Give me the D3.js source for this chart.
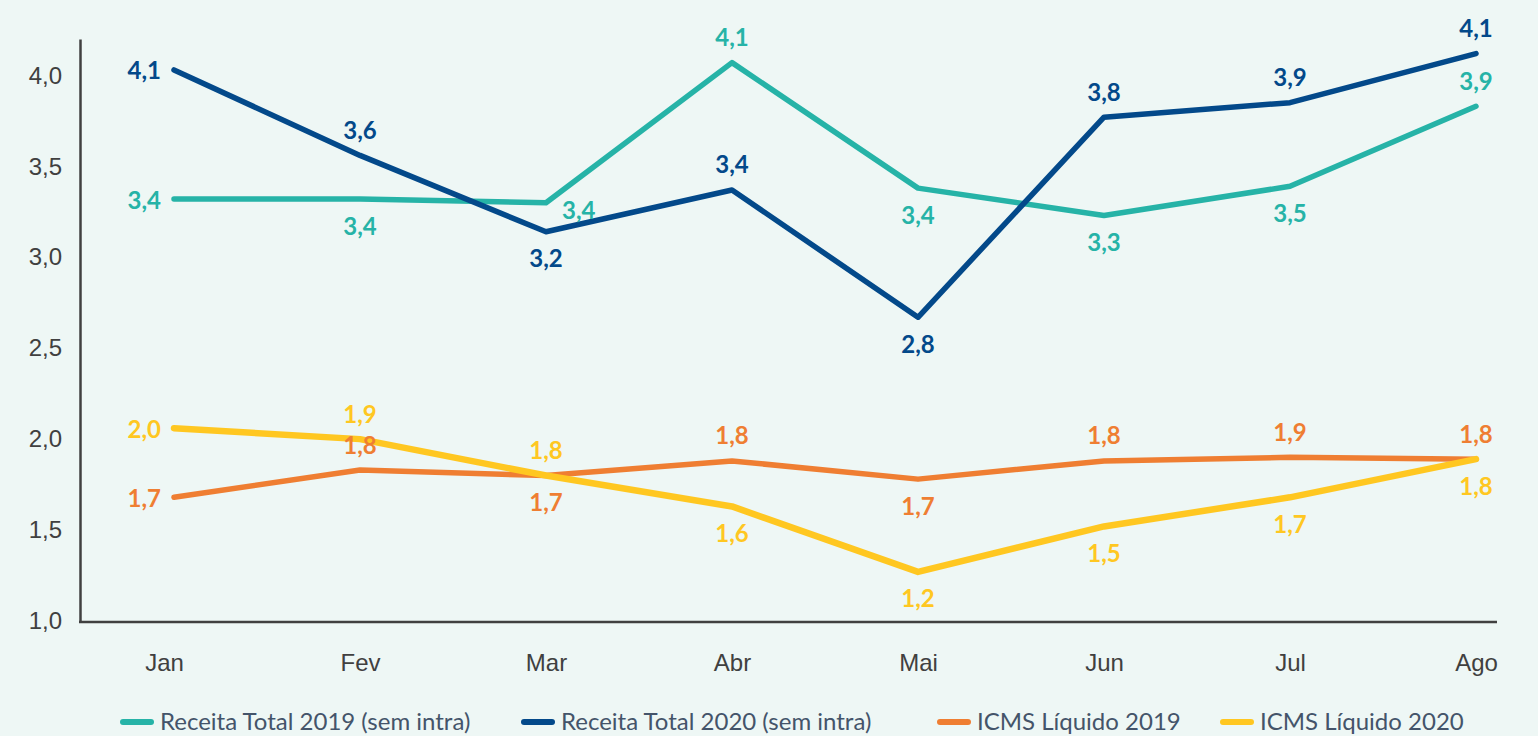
<!DOCTYPE html>
<html>
<head>
<meta charset="utf-8">
<script src="https://d3js.org/d3.v7.min.js"></script>
<style>
    html, body {
        margin: 0;
        padding: 0;
        background: #eef7f5;
    }
    svg {
        display: block;
        font-family: Lato, "Open Sans", sans-serif;
    }
    .tick text {
        fill: #404040;
        font-size: 24px;
    }
    .val {
        font-weight: bold;
        font-size: 24px;
    }
</style>
</head>
<body>
<svg id="chart" width="1538" height="736"></svg>
<script>
// categories
var months = ["Jan", "Fev", "Mar", "Abr", "Mai", "Jun", "Jul", "Ago"];
var yTicks = [1.0, 1.5, 2.0, 2.5, 3.0, 3.5, 4.0];

// plotted values
var receita2019 = [3.32, 3.32, 3.30, 4.07, 3.38, 3.23, 3.39, 3.83];
var receita2020 = [4.03, 3.56, 3.14, 3.37, 2.67, 3.77, 3.85, 4.12];
var icms2019 = [1.68, 1.83, 1.80, 1.88, 1.78, 1.88, 1.90, 1.89];
var icms2020 = [2.06, 2.00, 1.80, 1.63, 1.27, 1.52, 1.68, 1.89];

// data label texts as shown on the chart
var receita2019Labels = ["3,4", "3,4", "3,4", "4,1", "3,4", "3,3", "3,5", "3,9"];
var receita2020Labels = ["4,1", "3,6", "3,2", "3,4", "2,8", "3,8", "3,9", "4,1"];
var icms2019Labels = ["1,7", "1,8", "1,7", "1,8", "1,7", "1,8", "1,9", "1,8"];
var icms2020Labels = ["2,0", "1,9", "1,8", "1,6", "1,2", "1,5", "1,7", "1,8"];

// where each label sits relative to its point
var receita2019Pos = ["left", "below", "right", "above", "below", "below", "below", "above"];
var receita2020Pos = ["left", "above", "below", "above", "below", "above", "above", "above"];
var icms2019Pos = ["left", "above", "below", "above", "below", "above", "above", "above"];
var icms2020Pos = ["left", "above", "above", "below", "below", "below", "below", "below"];

var seriesNames = ["Receita Total 2019 (sem intra)", "Receita Total 2020 (sem intra)", "ICMS Líquido 2019", "ICMS Líquido 2020"];

var series = [
    {name: seriesNames[0], values: receita2019, labels: receita2019Labels, pos: receita2019Pos, color: "#26b3a7", width: 5.5},
    {name: seriesNames[1], values: receita2020, labels: receita2020Labels, pos: receita2020Pos, color: "#03498a", width: 5.5},
    {name: seriesNames[2], values: icms2019, labels: icms2019Labels, pos: icms2019Pos, color: "#ef7e32", width: 5.5},
    {name: seriesNames[3], values: icms2020, labels: icms2020Labels, pos: icms2020Pos, color: "#ffc721", width: 6.5}
];

var svg = d3.select("#chart");

var x = d3.scalePoint().domain(months).range([174, 1476]);
var y = d3.scaleLinear().domain([1, 4.2]).range([621, 39]);

var comma = d3.formatLocale({decimal: ",", thousands: ".", grouping: [3], currency: ["R$", ""]});
var fmt = comma.format(".1f");

// y axis
var yAxis = svg.append("g")
    .attr("transform", "translate(80,0)")
    .call(d3.axisLeft(y).tickValues(yTicks).tickSize(0).tickPadding(18).tickFormat(fmt));
yAxis.select(".domain").attr("stroke", "#404040").attr("stroke-width", 2.5);

// x axis
var xAxis = svg.append("g")
    .attr("transform", "translate(0,622)")
    .call(d3.axisBottom(x).tickSize(0).tickPadding(32));
xAxis.select(".domain").remove();
// first category label sits a little left in the original
xAxis.selectAll(".tick text").attr("dx", function(d, i) { return i == 0 ? -10 : 0; });
svg.append("line")
    .attr("x1", 79).attr("x2", 1497)
    .attr("y1", 622).attr("y2", 622)
    .attr("stroke", "#404040").attr("stroke-width", 2.5);

var line = d3.line()
    .x(function(d, i) { return x(months[i]); })
    .y(function(d) { return y(d); });

// lines
svg.selectAll("path.series")
    .data(series)
    .enter()
    .append("path")
    .attr("class", "series")
    .attr("d", function(s) { return line(s.values); })
    .attr("fill", "none")
    .attr("stroke", function(s) { return s.color; })
    .attr("stroke-width", function(s) { return s.width; })
    .attr("stroke-linejoin", "round")
    .attr("stroke-linecap", "round");

// data labels
series.forEach(function(s) {
    svg.append("g").selectAll("text")
        .data(s.values)
        .enter()
        .append("text")
        .attr("class", "val")
        .attr("fill", s.color)
        .attr("dominant-baseline", "central")
        .attr("text-anchor", function(d, i) {
            if (s.pos[i] == "left") return "end";
            if (s.pos[i] == "right") return "start";
            return "middle";
        })
        .attr("x", function(d, i) {
            var px = x(months[i]);
            if (s.pos[i] == "left") return px - 13;
            if (s.pos[i] == "right") return px + 16;
            return px;
        })
        .attr("y", function(d, i) {
            var py = y(d);
            if (s.pos[i] == "above") return py - 26;
            if (s.pos[i] == "below") return py + 26;
            if (s.pos[i] == "right") return py + 7;
            return py;
        })
        .text(function(d, i) { return s.labels[i]; });
});

// legend
var legendX = [120, 521, 937, 1220];
var legend = svg.selectAll("g.legend")
    .data(series)
    .enter()
    .append("g")
    .attr("class", "legend")
    .attr("transform", function(s, i) { return "translate(" + legendX[i] + ",720)"; });

legend.append("line")
    .attr("x1", 3).attr("x2", 31)
    .attr("y1", 2).attr("y2", 2)
    .attr("stroke", function(s) { return s.color; })
    .attr("stroke-width", 6)
    .attr("stroke-linecap", "round");

legend.append("text")
    .attr("x", 40)
    .attr("dominant-baseline", "central")
    .attr("fill", "#44546a")
    .style("font-size", "24px")
    .text(function(s) { return s.name; });
</script>
</body>
</html>
